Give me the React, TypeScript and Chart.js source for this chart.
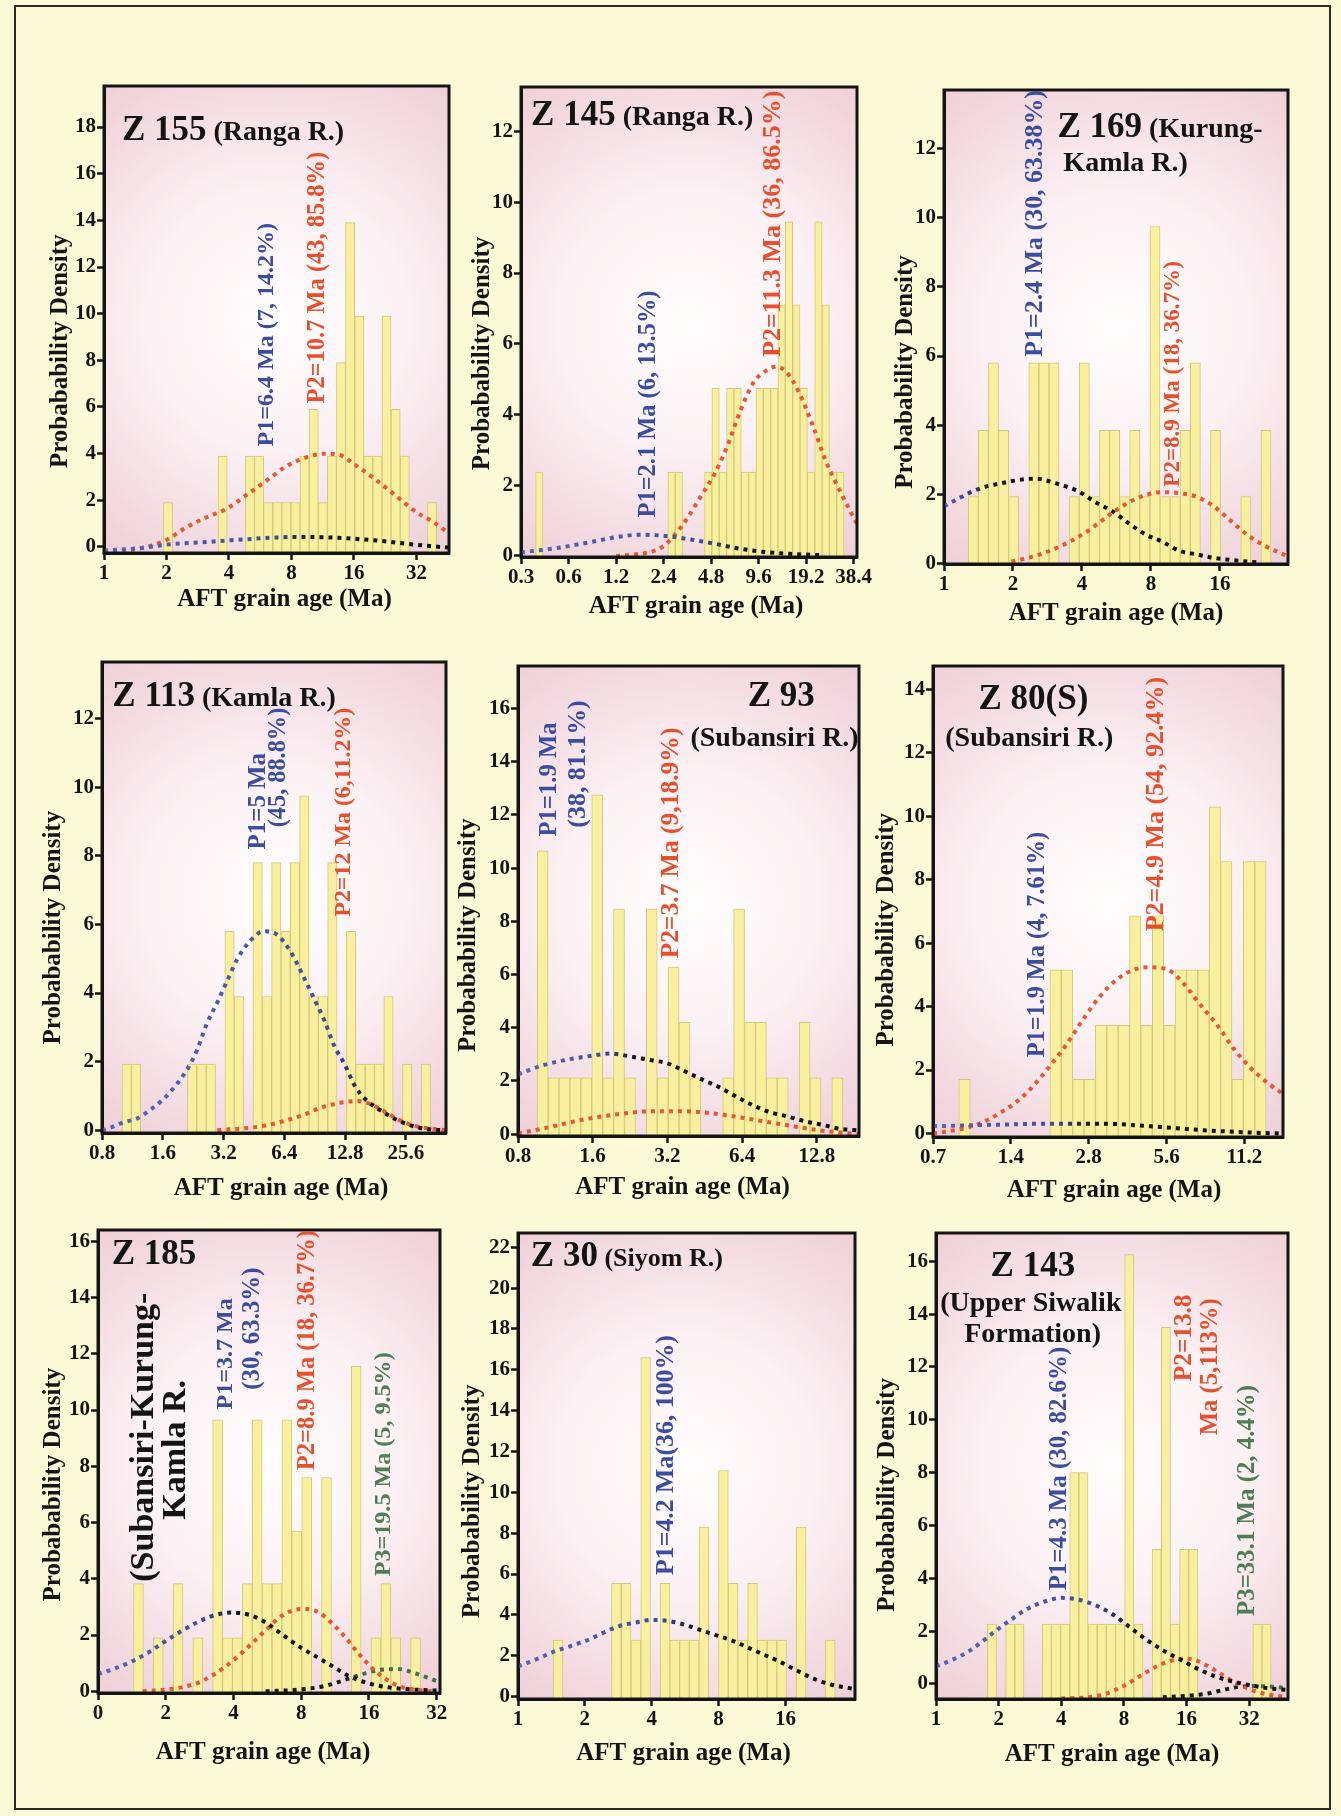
import React, { useEffect, useRef } from 'react';
import { Chart, registerables } from 'chart.js';

Chart.register(...registerables);

const SERIF = '"Liberation Serif", "Times New Roman", Times, serif';
const INK = '#141414';
const BLUE_TXT = '#3c4d9e';
const RED_TXT = '#e5502e';
const GREEN_TXT = '#4f7d55';
const RED_LINE = '#e9562f';
const Y_TITLE = 'Probabability Density';
const X_TITLE = 'AFT grain age (Ma)';

// ---------------- Z 155 ----------------
const z155XTicks = [1, 2, 4, 8, 16, 32];
const z155XLabels = ['1', '2', '4', '8', '16', '32'];
const z155YTicks = [0, 2, 4, 6, 8, 10, 12, 14, 16, 18];
const z155Bins = [1.9, 0, 0, 0, 0, 0, 3.9, 0, 0, 3.9, 3.9, 1.9, 1.9, 1.9, 1.9, 3.9, 5.9, 1.9, 3.9, 7.9, 13.9, 9.9, 3.9, 3.9, 9.9, 5.9, 3.9, 0, 0, 1.9];
const z155P1Age = [1, 1.5, 2, 3, 4, 6, 8.5, 11, 16, 22, 30, 38, 46];
const z155P1Pd = [-0.15, -0.05, 0.1, 0.2, 0.28, 0.38, 0.43, 0.42, 0.35, 0.25, 0.12, 0.03, -0.03];
const z155P2Age = [1.0, 1.5, 2.0, 2.5, 3.1, 3.9, 4.9, 6.1, 7.6, 9.5, 11.5, 13.8, 16, 20, 25, 32, 38, 46];
const z155P2Pd = [-0.18, -0.06, 0.3, 0.85, 1.26, 1.64, 2.25, 2.86, 3.47, 3.85, 4.0, 3.93, 3.55, 2.94, 2.25, 1.49, 1.1, 0.58];

// ---------------- Z 145 ----------------
const z145XTicks = [0.3, 0.6, 1.2, 2.4, 4.8, 9.6, 19.2, 38.4];
const z145XLabels = ['0.3', '0.6', '1.2', '2.4', '4.8', '9.6', '19.2', '38.4'];
const z145YTicks = [0, 2, 4, 6, 8, 10, 12];
const z145Bins = [2.37, 0, 0, 0, 0, 0, 0, 0, 0, 0, 0, 0, 0, 0, 0, 0, 0, 0, 2.37, 2.37, 0, 0, 0, 2.37, 4.74, 2.37, 4.74, 4.74, 2.37, 2.37, 4.74, 4.74, 4.74, 7.1, 9.45, 7.1, 4.74, 2.37, 9.45, 7.1, 2.37, 2.37];
const z145P1Age = [0.3, 0.5, 0.8, 1.2, 1.7, 2.4, 3.5, 5, 7, 10, 15, 25];
const z145P1Pd = [0.1, 0.22, 0.38, 0.53, 0.6, 0.57, 0.47, 0.35, 0.22, 0.12, 0.06, 0.02];
const z145P2Age = [1.2, 1.45, 1.93, 2.35, 2.83, 3.43, 4.15, 5.02, 6.07, 7.35, 8.89, 10.8, 12.4, 14.4, 17.4, 21.1, 25.5, 30.9, 40.3];
const z145P2Pd = [0, 0.03, 0.1, 0.25, 0.6, 1.1, 1.7, 2.3, 3.1, 4.1, 4.9, 5.25, 5.35, 5.2, 4.6, 3.7, 2.7, 1.9, 0.9];

// ---------------- Z 169 ----------------
const z169XTicks = [1, 2, 4, 8, 16];
const z169XLabels = ['1', '2', '4', '8', '16'];
const z169YTicks = [0, 2, 4, 6, 8, 10, 12];
const z169Bins = [1.93, 3.85, 5.8, 3.85, 1.93, 0, 5.8, 5.8, 5.8, 0, 1.93, 5.8, 1.93, 3.85, 3.85, 1.93, 3.85, 1.93, 9.75, 1.93, 1.93, 3.85, 5.8, 0, 3.85, 0, 0, 1.93, 0, 3.85];
const z169P1Age = [1, 1.4, 1.84, 2.49, 3.16, 3.87, 4.58, 5.42, 6.42, 7.6, 9.0, 10.65, 12.6, 14.9, 17.7, 21, 24.1];
const z169P1Pd = [1.65, 2.14, 2.34, 2.45, 2.29, 2.08, 1.77, 1.51, 1.15, 0.83, 0.62, 0.36, 0.26, 0.16, 0.1, 0.05, 0.02];
const z169P2Age = [1.97, 2.49, 3.16, 4.14, 5.42, 6.42, 7.6, 9.0, 10.65, 12.6, 14.9, 17.7, 21, 24.9, 31.7];
const z169P2Pd = [0.05, 0.21, 0.47, 0.89, 1.46, 1.77, 1.98, 2.06, 2.03, 1.93, 1.67, 1.25, 0.83, 0.52, 0.2];

// ---------------- Z 113 ----------------
const z113XTicks = [0.8, 1.6, 3.2, 6.4, 12.8, 25.6];
const z113XLabels = ['0.8', '1.6', '3.2', '6.4', '12.8', '25.6'];
const z113YTicks = [0, 2, 4, 6, 8, 10, 12];
const z113Bins = [1.93, 1.93, 0, 0, 0, 0, 0, 1.93, 1.93, 1.93, 0, 5.8, 3.9, 0, 7.8, 3.9, 7.8, 5.8, 7.8, 9.75, 3.9, 3.9, 7.8, 0, 5.8, 1.93, 1.93, 1.93, 3.9, 0, 1.93, 0, 1.93];
const z113P1Age = [0.8, 0.877, 1.02, 1.19, 1.39, 1.62, 1.88, 2.11, 2.37, 2.64, 2.98, 3.34, 3.75, 4.36, 5.06, 5.89, 6.85, 7.97, 8.97, 10.1, 11.3, 12.7, 14.3, 16.0, 19.5, 23.3, 28.2, 34.2, 40.4];
const z113P1Pd = [0.0, 0.07, 0.23, 0.34, 0.6, 0.92, 1.35, 1.77, 2.35, 3.1, 3.73, 4.37, 5.0, 5.54, 5.8, 5.7, 5.22, 4.47, 3.84, 3.2, 2.46, 1.93, 1.29, 0.92, 0.55, 0.29, 0.11, 0.02, 0];
const z113P2Age = [2.98, 5.06, 7.97, 9.7, 12.7, 14.7, 17.1, 20.0, 23.3, 28.2, 40.4];
const z113P2Pd = [0, 0.13, 0.45, 0.66, 0.82, 0.85, 0.76, 0.55, 0.32, 0.13, 0];

// ---------------- Z 93 ----------------
const z93XTicks = [0.8, 1.6, 3.2, 6.4, 12.8];
const z93XLabels = ['0.8', '1.6', '3.2', '6.4', '12.8'];
const z93YTicks = [0, 2, 4, 6, 8, 10, 12, 14, 16];
const z93Bins = [10.65, 2.12, 2.12, 2.12, 2.12, 12.76, 2.12, 8.46, 2.12, 0, 8.46, 2.12, 6.28, 4.2, 2.12, 0, 0, 2.12, 8.46, 4.2, 4.2, 2.12, 2.12, 0, 4.2, 2.12, 0, 2.12];
const z93P1Age = [0.8, 1.01, 1.26, 1.57, 1.89, 2.21, 2.67, 3.2, 3.71, 4.42, 5.16, 6.0, 7.05, 8.3, 9.6, 11.5, 13.6, 15.9, 18.9];
const z93P1Pd = [2.25, 2.59, 2.8, 2.94, 3.03, 2.94, 2.8, 2.66, 2.39, 2.05, 1.77, 1.43, 1.09, 0.82, 0.68, 0.48, 0.34, 0.2, 0.14];
const z93P2Age = [0.8, 1.08, 1.47, 2.02, 2.76, 3.77, 5.16, 7.05, 9.65, 13.2, 18.9];
const z93P2Pd = [0.02, 0.27, 0.55, 0.75, 0.86, 0.86, 0.75, 0.55, 0.34, 0.14, 0];

// ---------------- Z 80(S) ----------------
const z80XTicks = [0.7, 1.4, 2.8, 5.6, 11.2];
const z80XLabels = ['0.7', '1.4', '2.8', '5.6', '11.2'];
const z80YTicks = [0, 2, 4, 6, 8, 10, 12, 14];
const z80Bins = [1.71, 0, 0, 0, 0, 0, 0, 0, 5.16, 5.16, 1.71, 1.71, 3.41, 3.41, 3.41, 6.86, 3.41, 6.86, 3.41, 5.16, 5.16, 5.16, 10.3, 8.57, 1.71, 8.57, 8.57];
const z80P1Age = [0.7, 1.26, 1.97, 3.1, 4.84, 7.6, 11.9, 15.8];
const z80P1Pd = [0.23, 0.28, 0.31, 0.31, 0.23, 0.11, 0.03, 0];
const z80P2Age = [0.7, 0.93, 1.08, 1.26, 1.46, 1.7, 1.97, 2.29, 2.66, 3.1, 3.58, 4.17, 4.84, 5.62, 6.53, 7.6, 8.81, 10.2, 11.9, 13.8, 15.8];
const z80P2Pd = [0.0, 0.17, 0.34, 0.63, 0.97, 1.48, 2.1, 2.79, 3.59, 4.33, 4.84, 5.16, 5.24, 5.18, 4.72, 4.04, 3.41, 2.67, 2.05, 1.59, 1.25];

// ---------------- Z 185 ----------------
const z185XTicks = [1, 2, 4, 8, 16, 32];
const z185XLabels = ['0', '2', '4', '8', '16', '32'];
const z185YTicks = [0, 2, 4, 6, 8, 10, 12, 14, 16];
const z185Bins = [3.83, 0, 1.9, 0, 3.83, 0, 1.9, 0, 9.65, 1.9, 1.9, 3.83, 9.65, 3.83, 3.83, 9.65, 5.7, 7.6, 0, 7.6, 0, 0, 11.55, 0, 1.9, 3.83, 1.9, 0, 1.9];
const z185P1Age = [1, 1.205, 1.43, 1.69, 2.0, 2.38, 2.82, 3.34, 3.96, 4.69, 5.56, 6.59, 7.81, 9.25, 10.96, 13.0, 15.4, 18.2, 21.6, 33];
const z185P1Pd = [0.61, 0.83, 1.08, 1.4, 1.79, 2.17, 2.49, 2.72, 2.8, 2.72, 2.45, 2.02, 1.6, 1.25, 0.9, 0.55, 0.32, 0.18, 0.1, 0.02];
const z185P2Age = [1.58, 2.0, 2.38, 2.82, 3.23, 3.7, 4.24, 4.86, 5.56, 6.37, 7.29, 8.36, 9.57, 10.96, 12.6, 14.4, 16.5, 18.9, 21.6, 25.7, 30.4];
const z185P2Pd = [0, 0.06, 0.15, 0.32, 0.57, 0.89, 1.28, 1.72, 2.17, 2.61, 2.87, 2.93, 2.81, 2.42, 1.91, 1.34, 0.83, 0.45, 0.19, 0.06, 0];
const z185P3Age = [5.56, 7.81, 10.2, 13.0, 15.4, 18.2, 21.6, 25.7, 33];
const z185P3Pd = [0, 0.06, 0.19, 0.45, 0.64, 0.77, 0.79, 0.64, 0.32];

// ---------------- Z 30 ----------------
const z30XTicks = [1, 2, 4, 8, 16];
const z30XLabels = ['1', '2', '4', '8', '16'];
const z30YTicks = [0, 2, 4, 6, 8, 10, 12, 14, 16, 18, 20, 22];
const z30Bins = [2.77, 0, 0, 0, 0, 0, 5.54, 5.54, 2.77, 16.6, 0, 5.54, 2.77, 2.77, 2.77, 8.3, 0, 11.07, 5.54, 2.77, 5.54, 2.77, 2.77, 2.77, 0, 8.3, 0, 0, 2.77];
const z30P1Age = [1, 1.22, 1.44, 1.71, 2.02, 2.39, 2.83, 3.36, 3.97, 4.7, 5.57, 6.6, 7.82, 9.27, 11.0, 13.0, 15.4, 18.2, 21.6, 25.6, 32.9];
const z30P1Pd = [1.48, 1.84, 2.19, 2.46, 2.73, 3.09, 3.44, 3.62, 3.75, 3.71, 3.53, 3.26, 3.0, 2.73, 2.37, 2.02, 1.66, 1.25, 0.86, 0.59, 0.36];

// ---------------- Z 143 ----------------
const z143XTicks = [1, 2, 4, 8, 16, 32];
const z143XLabels = ['1', '2', '4', '8', '16', '32'];
const z143YTicks = [0, 2, 4, 6, 8, 10, 12, 14, 16];
const z143Bins = [2.27, 0, 2.27, 2.27, 0, 0, 2.27, 2.27, 2.27, 8.0, 8.0, 2.27, 2.27, 2.27, 2.27, 16.25, 2.27, 0, 5.1, 13.5, 2.27, 5.1, 5.1, 0, 0, 0, 0, 0, 0, 2.27, 2.27];
const z143P1Age = [1.0, 1.21, 1.46, 1.9, 2.29, 2.76, 3.33, 4.02, 4.85, 5.84, 7.05, 8.5, 10.25, 12.35, 14.9, 17.9, 21.6, 26.1, 31.4, 39.3, 49];
const z143P1Pd = [0.66, 0.93, 1.27, 1.96, 2.43, 2.85, 3.12, 3.26, 3.19, 2.98, 2.64, 2.16, 1.68, 1.27, 0.93, 0.59, 0.31, 0.11, -0.03, -0.16, -0.23];
const z143P2Age = [4.0, 5.42, 6.52, 7.87, 9.49, 11.4, 13.8, 15.7, 17.9, 21.6, 26.1, 31.4, 37.9, 49];
const z143P2Pd = [-0.55, -0.5, -0.37, -0.1, 0.28, 0.65, 0.9, 0.96, 0.88, 0.55, 0.15, -0.17, -0.37, -0.5];
const z143P3Age = [12.3, 16.6, 20, 24, 28, 33, 40, 49];
const z143P3Pd = [-0.5, -0.44, -0.37, -0.23, -0.12, -0.08, -0.1, -0.16];

// ---------------- layout types ----------------
type Curve = { age: number[]; pd: number[]; kind: 'p1' | 'p2' | 'p3'; split: number };
type VLabel = { text: string; color: string; fx: number; fy0: number; fy1: number; size?: number };
type TitleLine = { parts: [string, number][]; fx: number; fy: number; align: 'left' | 'center' };
type Panel = {
  frame: [number, number, number, number];
  xMin: number; xMax: number; yMin: number; yMax: number;
  xTicks: number[]; xLabels: string[]; yTicks: number[];
  binLo: number; binStep: number; bins: number[];
  curves: Curve[]; labels: VLabel[]; titles: TitleLine[];
  yTitleDx: number; yTitleFy: number; xTitleDy: number; xTitleDx: number;
};

const BIG = 35;
const SUB = 28;

const panels: Panel[] = [
  {
    frame: [104, 86, 449, 553], xMin: 1, xMax: 45.9, yMin: -0.26, yMax: 19.76,
    xTicks: z155XTicks, xLabels: z155XLabels, yTicks: z155YTicks,
    binLo: 1.934, binStep: 0.1457, bins: z155Bins,
    curves: [
      { age: z155P1Age, pd: z155P1Pd, kind: 'p1', split: 0.5 },
      { age: z155P2Age, pd: z155P2Pd, kind: 'p2', split: 0 },
    ],
    labels: [
      { text: 'P1=6.4 Ma (7, 14.2%)', color: BLUE_TXT, fx: 0.471, fy0: 0.772, fy1: 0.293 },
      { text: 'P2=10.7 Ma (43, 85.8%)', color: RED_TXT, fx: 0.618, fy0: 0.68, fy1: 0.141 },
    ],
    titles: [{ parts: [['Z 155', BIG], [' (Ranga R.)', SUB]], fx: 0.052, fy: 0.115, align: 'left' }],
    yTitleDx: 43, yTitleFy: 0.568, xTitleDy: 47, xTitleDx: 8,
  },
  {
    frame: [521, 87, 857, 557], xMin: 0.3, xMax: 40.3, yMin: -0.03, yMax: 13.26,
    xTicks: z145XTicks, xLabels: z145XLabels, yTicks: z145YTicks,
    binLo: 0.3716, binStep: 0.1545, bins: z145Bins,
    curves: [
      { age: z145P1Age, pd: z145P1Pd, kind: 'p1', split: 0.55 },
      { age: z145P2Age, pd: z145P2Pd, kind: 'p2', split: 0 },
    ],
    labels: [
      { text: 'P1=2.1 Ma (6, 13.5%)', color: BLUE_TXT, fx: 0.38, fy0: 0.916, fy1: 0.433 },
      { text: 'P2=11.3 Ma (36, 86.5%)', color: RED_TXT, fx: 0.751, fy0: 0.578, fy1: 0.004 },
    ],
    titles: [{ parts: [['Z 145', BIG], [' (Ranga R.)', SUB]], fx: 0.03, fy: 0.08, align: 'left' }],
    yTitleDx: 38, yTitleFy: 0.567, xTitleDy: 50, xTitleDx: 7,
  },
  {
    frame: [944, 90, 1288, 564], xMin: 1, xMax: 31.7, yMin: -0.02, yMax: 13.7,
    xTicks: z169XTicks, xLabels: z169XLabels, yTicks: z169YTicks,
    binLo: 1.276, binStep: 0.1463, bins: z169Bins,
    curves: [
      { age: z169P1Age, pd: z169P1Pd, kind: 'p1', split: 0.05 },
      { age: z169P2Age, pd: z169P2Pd, kind: 'p2', split: 0 },
    ],
    labels: [
      { text: 'P1=2.4 Ma (30, 63.38%)', color: BLUE_TXT, fx: 0.264, fy0: 0.563, fy1: 0.0 },
      { text: 'P2=8.9 Ma (18, 36.7%)', color: RED_TXT, fx: 0.665, fy0: 0.837, fy1: 0.361 },
    ],
    titles: [
      { parts: [['Z 169', BIG], [' (Kurung-', SUB]], fx: 0.33, fy: 0.099, align: 'left' },
      { parts: [['Kamla R.)', SUB]], fx: 0.347, fy: 0.171, align: 'left' },
    ],
    yTitleDx: 38, yTitleFy: 0.595, xTitleDy: 50, xTitleDx: 0,
  },
  {
    frame: [102, 662, 446, 1133], xMin: 0.8, xMax: 40.4, yMin: -0.08, yMax: 13.65,
    xTicks: z113XTicks, xLabels: z113XLabels, yTicks: z113YTicks,
    binLo: 1.005, binStep: 0.1538, bins: z113Bins,
    curves: [
      { age: z113P1Age, pd: z113P1Pd, kind: 'p1', split: 0.68 },
      { age: z113P2Age, pd: z113P2Pd, kind: 'p2', split: 0 },
    ],
    labels: [
      { text: 'P1=5 Ma', color: BLUE_TXT, fx: 0.456, fy0: 0.398, fy1: 0.193 },
      { text: '(45, 88.8%)', color: BLUE_TXT, fx: 0.515, fy0: 0.351, fy1: 0.097 },
      { text: 'P2=12 Ma (6,11.2%)', color: RED_TXT, fx: 0.704, fy0: 0.541, fy1: 0.097 },
    ],
    titles: [{ parts: [['Z 113', BIG], [' (Kamla R.)', SUB]], fx: 0.03, fy: 0.093, align: 'left' }],
    yTitleDx: 48, yTitleFy: 0.564, xTitleDy: 56, xTitleDx: 7,
  },
  {
    frame: [518, 666, 859, 1136], xMin: 0.8, xMax: 18.9, yMin: -0.07, yMax: 17.6,
    xTicks: z93XTicks, xLabels: z93XLabels, yTicks: z93YTicks,
    binLo: 0.956, binStep: 0.146, bins: z93Bins,
    curves: [
      { age: z93P1Age, pd: z93P1Pd, kind: 'p1', split: 0.25 },
      { age: z93P2Age, pd: z93P2Pd, kind: 'p2', split: 0 },
    ],
    labels: [
      { text: 'P1=1.9 Ma', color: BLUE_TXT, fx: 0.094, fy0: 0.363, fy1: 0.12 },
      { text: '(38, 81.1%)', color: BLUE_TXT, fx: 0.178, fy0: 0.344, fy1: 0.073 },
      { text: 'P2=3.7 Ma (9,18.9%)', color: RED_TXT, fx: 0.45, fy0: 0.622, fy1: 0.131 },
    ],
    titles: [
      { parts: [['Z 93', BIG]], fx: 0.772, fy: 0.085, align: 'center' },
      { parts: [['(Subansiri R.)', SUB]], fx: 0.752, fy: 0.17, align: 'center' },
    ],
    yTitleDx: 49, yTitleFy: 0.573, xTitleDy: 52, xTitleDx: -6,
  },
  {
    frame: [933, 666, 1283, 1137], xMin: 0.7, xMax: 15.8, yMin: -0.11, yMax: 14.74,
    xTicks: z80XTicks, xLabels: z80XLabels, yTicks: z80YTicks,
    binLo: 0.881, binStep: 0.1462, bins: z80Bins,
    curves: [
      { age: z80P1Age, pd: z80P1Pd, kind: 'p1', split: 0.35 },
      { age: z80P2Age, pd: z80P2Pd, kind: 'p2', split: 0 },
    ],
    labels: [
      { text: 'P1=1.9 Ma (4, 7.61%)', color: BLUE_TXT, fx: 0.298, fy0: 0.831, fy1: 0.352 },
      { text: 'P2=4.9 Ma (54, 92.4%)', color: RED_TXT, fx: 0.639, fy0: 0.586, fy1: 0.0 },
    ],
    titles: [
      { parts: [['Z 80(S)', BIG]], fx: 0.13, fy: 0.092, align: 'left' },
      { parts: [['(Subansiri R.)', SUB]], fx: 0.035, fy: 0.169, align: 'left' },
    ],
    yTitleDx: 46, yTitleFy: 0.56, xTitleDy: 54, xTitleDx: 6,
  },
  {
    frame: [98, 1230, 440, 1693], xMin: 1, xMax: 33.1, yMin: -0.06, yMax: 16.4,
    xTicks: z185XTicks, xLabels: z185XLabels, yTicks: z185YTicks,
    binLo: 1.438, binStep: 0.1461, bins: z185Bins,
    curves: [
      { age: z185P1Age, pd: z185P1Pd, kind: 'p1', split: 0.3 },
      { age: z185P2Age, pd: z185P2Pd, kind: 'p2', split: 0 },
      { age: z185P3Age, pd: z185P3Pd, kind: 'p3', split: 0.72 },
    ],
    labels: [
      { text: '(Subansiri-Kurung-', color: INK, fx: 0.136, fy0: 0.745, fy1: 0.15, size: 34 },
      { text: 'Kamla R.', color: INK, fx: 0.228, fy0: 0.585, fy1: 0.365, size: 34 },
      { text: 'P1=3.7 Ma', color: BLUE_TXT, fx: 0.374, fy0: 0.388, fy1: 0.147 },
      { text: '(30, 63.3%)', color: BLUE_TXT, fx: 0.451, fy0: 0.345, fy1: 0.081 },
      { text: 'P2=8.9 Ma (18, 36.7%)', color: RED_TXT, fx: 0.612, fy0: 0.519, fy1: 0.0 },
      { text: 'P3=19.5 Ma (5, 9.5%)', color: GREEN_TXT, fx: 0.835, fy0: 0.748, fy1: 0.264 },
    ],
    titles: [{ parts: [['Z 185', BIG]], fx: 0.04, fy: 0.074, align: 'left' }],
    yTitleDx: 44, yTitleFy: 0.55, xTitleDy: 60, xTitleDx: -6,
  },
  {
    frame: [518, 1233, 855, 1699], xMin: 1, xMax: 32.9, yMin: -0.12, yMax: 22.7,
    xTicks: z30XTicks, xLabels: z30XLabels, yTicks: z30YTicks,
    binLo: 1.441, binStep: 0.1454, bins: z30Bins,
    curves: [{ age: z30P1Age, pd: z30P1Pd, kind: 'p1', split: 0.42 }],
    labels: [{ text: 'P1=4.2 Ma(36, 100%)', color: BLUE_TXT, fx: 0.439, fy0: 0.734, fy1: 0.219 }],
    titles: [{ parts: [['Z 30', BIG], [' (Siyom R.)', SUB - 2]], fx: 0.038, fy: 0.07, align: 'left' }],
    yTitleDx: 45, yTitleFy: 0.576, xTitleDy: 55, xTitleDx: -3,
  },
  {
    frame: [936, 1233, 1288, 1699], xMin: 1, xMax: 49.2, yMin: -0.57, yMax: 17.07,
    xTicks: z143XTicks, xLabels: z143XLabels, yTicks: z143YTicks,
    binLo: 1.765, binStep: 0.1462, bins: z143Bins,
    curves: [
      { age: z143P1Age, pd: z143P1Pd, kind: 'p1', split: 0.45 },
      { age: z143P2Age, pd: z143P2Pd, kind: 'p2', split: 0 },
      { age: z143P3Age, pd: z143P3Pd, kind: 'p3', split: 0.85 },
    ],
    labels: [
      { text: 'P1=4.3 Ma (30, 82.6%)', color: BLUE_TXT, fx: 0.351, fy0: 0.767, fy1: 0.244 },
      { text: 'P2=13.8', color: RED_TXT, fx: 0.707, fy0: 0.318, fy1: 0.132 },
      { text: 'Ma (5,113%)', color: RED_TXT, fx: 0.779, fy0: 0.434, fy1: 0.14 },
      { text: 'P3=33.1 Ma (2, 4.4%)', color: GREEN_TXT, fx: 0.885, fy0: 0.822, fy1: 0.326 },
    ],
    titles: [
      { parts: [['Z 143', BIG]], fx: 0.155, fy: 0.093, align: 'left' },
      { parts: [['(Upper Siwalik', SUB]], fx: 0.012, fy: 0.167, align: 'left' },
      { parts: [['Formation)', SUB]], fx: 0.08, fy: 0.233, align: 'left' },
    ],
    yTitleDx: 48, yTitleFy: 0.562, xTitleDy: 56, xTitleDx: 0,
  },
];

const PAD_L = 76;
const PAD_R = 30;
const PAD_T = 14;
const PAD_B = 90;

function gradient(stops: [number, string][]) {
  return (c: any) => {
    const chart = c.chart;
    const a = chart.chartArea;
    if (!a) return stops[0][1];
    const g = chart.ctx.createLinearGradient(a.left, 0, a.right, 0);
    stops.forEach(([o, col]) => g.addColorStop(Math.max(0, Math.min(1, o)), col));
    return g;
  };
}

function curveColor(cv: Curve) {
  if (cv.kind === 'p2') return RED_LINE;
  if (cv.kind === 'p1') {
    const s = cv.split;
    return gradient([[0, '#5565b8'], [s, '#3f4e9c'], [s + 0.1, '#16161c'], [1, '#111111']]);
  }
  const g = cv.split;
  return gradient([[0, '#121212'], [g, '#161a16'], [g + 0.06, '#40714a'], [1, '#40714a']]);
}

function drawVLabel(ctx: CanvasRenderingContext2D, a: any, l: VLabel) {
  const x = a.left + l.fx * a.width;
  const yB = a.top + l.fy0 * a.height;
  const yT = a.top + l.fy1 * a.height;
  let size = l.size ?? 20;
  if (!l.size) {
    ctx.font = `bold 20px ${SERIF}`;
    const w = ctx.measureText(l.text).width;
    size = Math.max(16, Math.min(26, (20 * (yB - yT)) / w));
  }
  ctx.save();
  ctx.font = `bold ${size}px ${SERIF}`;
  ctx.translate(x, (yB + yT) / 2);
  ctx.rotate(-Math.PI / 2);
  ctx.textAlign = 'center';
  ctx.textBaseline = 'middle';
  ctx.fillStyle = l.color;
  ctx.fillText(l.text, 0, 0);
  ctx.restore();
}

function drawTitle(ctx: CanvasRenderingContext2D, a: any, t: TitleLine) {
  const widths = t.parts.map(([s, sz]) => {
    ctx.font = `bold ${sz}px ${SERIF}`;
    return ctx.measureText(s).width;
  });
  const total = widths.reduce((p, q) => p + q, 0);
  let x = a.left + t.fx * a.width;
  if (t.align === 'center') x -= total / 2;
  const y = a.top + t.fy * a.height;
  ctx.save();
  ctx.fillStyle = INK;
  ctx.textAlign = 'left';
  ctx.textBaseline = 'alphabetic';
  t.parts.forEach(([s, sz], i) => {
    ctx.font = `bold ${sz}px ${SERIF}`;
    ctx.fillText(s, x, y);
    x += widths[i];
  });
  ctx.restore();
}

function PanelChart({ p }: { p: Panel }) {
  const ref = useRef<HTMLCanvasElement>(null);
  const [L, T, R, B] = p.frame;
  const w = R - L + PAD_L + PAD_R;
  const h = B - T + PAD_T + PAD_B;

  useEffect(() => {
    const canvas = ref.current;
    if (!canvas) return;
    const centers = p.bins.map((_, i) => p.binLo * Math.pow(2, (i + 0.5) * p.binStep));
    const barData = p.bins
      .map((v, i) => ({ x: centers[i], y: v }))
      .filter((d) => d.y > 0);

    const datasets: any[] = p.curves.map((cv) => ({
      type: 'line',
      data: cv.age.map((v, i) => ({ x: v, y: cv.pd[i] })),
      borderColor: curveColor(cv),
      borderWidth: 4,
      borderDash: [4, 5],
      borderCapStyle: 'butt',
      pointRadius: 0,
      fill: false,
      cubicInterpolationMode: 'monotone',
      order: 0,
    }));
    datasets.push({
      type: 'bar',
      data: barData,
      backgroundColor: '#f8f09e',
      borderColor: '#d2c87c',
      borderWidth: 1,
      borderSkipped: false,
      barPercentage: 1,
      categoryPercentage: 1,
      base: p.yMin,
      order: 1,
    });

    const decor = {
      id: 'decor',
      beforeDraw(chart: any) {
        const { ctx, chartArea: a } = chart;
        ctx.save();
        const cx = (a.left + a.right) / 2;
        const cy = (a.top + a.bottom) / 2;
        const r = Math.hypot(a.width, a.height) / 2;
        const g = ctx.createRadialGradient(cx, cy, 0, cx, cy, r);
        g.addColorStop(0, '#fffdfd');
        g.addColorStop(0.45, '#fcf1f4');
        g.addColorStop(1, '#eecfd8');
        ctx.fillStyle = g;
        ctx.fillRect(a.left, a.top, a.width, a.height);
        ctx.restore();
      },
      afterDraw(chart: any) {
        const { ctx, chartArea: a } = chart;
        ctx.save();
        ctx.strokeStyle = INK;
        ctx.lineWidth = 3;
        ctx.strokeRect(a.left, a.top, a.width, a.height);
        ctx.restore();
        p.titles.forEach((t) => drawTitle(ctx, a, t));
        p.labels.forEach((l) => drawVLabel(ctx, a, l));
        // axis titles
        ctx.save();
        ctx.fillStyle = INK;
        ctx.font = `bold 25px ${SERIF}`;
        ctx.textAlign = 'center';
        ctx.textBaseline = 'middle';
        ctx.fillText(X_TITLE, (a.left + a.right) / 2 + p.xTitleDx, a.bottom + p.xTitleDy);
        ctx.translate(a.left - p.yTitleDx, a.top + p.yTitleFy * a.height);
        ctx.rotate(-Math.PI / 2);
        ctx.fillText(Y_TITLE, 0, 0);
        ctx.restore();
      },
    };

    const tickFont = { family: SERIF, size: 21, weight: 'bold' as const };

    const chart = new Chart(canvas, {
      type: 'bar',
      data: { datasets },
      options: {
        animation: false,
        responsive: false,
        maintainAspectRatio: false,
        devicePixelRatio: 1,
        events: [],
        layout: { padding: { top: PAD_T, right: PAD_R, left: 0, bottom: 0 } },
        plugins: { legend: { display: false }, tooltip: { enabled: false }, title: { display: false } },
        scales: {
          x: {
            type: 'logarithmic',
            min: p.xMin,
            max: p.xMax,
            offset: false,
            bounds: 'data',
            afterBuildTicks: (s: any) => {
              s.ticks = p.xTicks.map((v) => ({ value: v }));
            },
            afterFit: (s: any) => {
              s.height = PAD_B;
              s.paddingLeft = 0;
              s.paddingRight = 0;
            },
            ticks: {
              autoSkip: false,
              maxRotation: 0,
              minRotation: 0,
              font: tickFont,
              color: INK,
              padding: 1,
              callback: (_v: any, i: number) => p.xLabels[i] ?? '',
            },
            grid: {
              display: true,
              offset: false,
              drawOnChartArea: false,
              drawTicks: true,
              tickLength: 7,
              tickWidth: 2.5,
              tickColor: INK,
              color: INK,
            },
            border: { display: true, color: INK, width: 3 },
          } as any,
          y: {
            type: 'linear',
            min: p.yMin,
            max: p.yMax,
            afterBuildTicks: (s: any) => {
              s.ticks = p.yTicks.map((v) => ({ value: v }));
            },
            afterFit: (s: any) => {
              s.width = PAD_L;
              s.paddingTop = 0;
              s.paddingBottom = 0;
            },
            ticks: {
              autoSkip: false,
              font: tickFont,
              color: INK,
              padding: 1,
              callback: (v: any) => String(v),
            },
            grid: {
              display: true,
              drawOnChartArea: false,
              drawTicks: true,
              tickLength: 7,
              tickWidth: 2.5,
              tickColor: INK,
              color: INK,
            },
            border: { display: true, color: INK, width: 3 },
          } as any,
        },
      },
      plugins: [decor],
    } as any);
    return () => chart.destroy();
  }, [p]);

  return (
    <canvas
      ref={ref}
      width={w}
      height={h}
      style={{ position: 'absolute', left: L - PAD_L, top: T - PAD_T, width: w, height: h }}
    />
  );
}

export default function App() {
  useEffect(() => {
    document.body.style.margin = '0';
  }, []);
  return (
    <div
      style={{
        position: 'absolute',
        left: 0,
        top: 0,
        width: 1341,
        height: 1816,
        background: '#fcf9d6',
        overflow: 'hidden',
      }}
    >
      <div
        style={{
          position: 'absolute',
          left: 14,
          top: 5,
          width: 1317,
          height: 1805,
          border: '2px solid #2a2a2a',
          boxSizing: 'border-box',
        }}
      />
      {panels.map((p, i) => (
        <PanelChart key={i} p={p} />
      ))}
    </div>
  );
}
